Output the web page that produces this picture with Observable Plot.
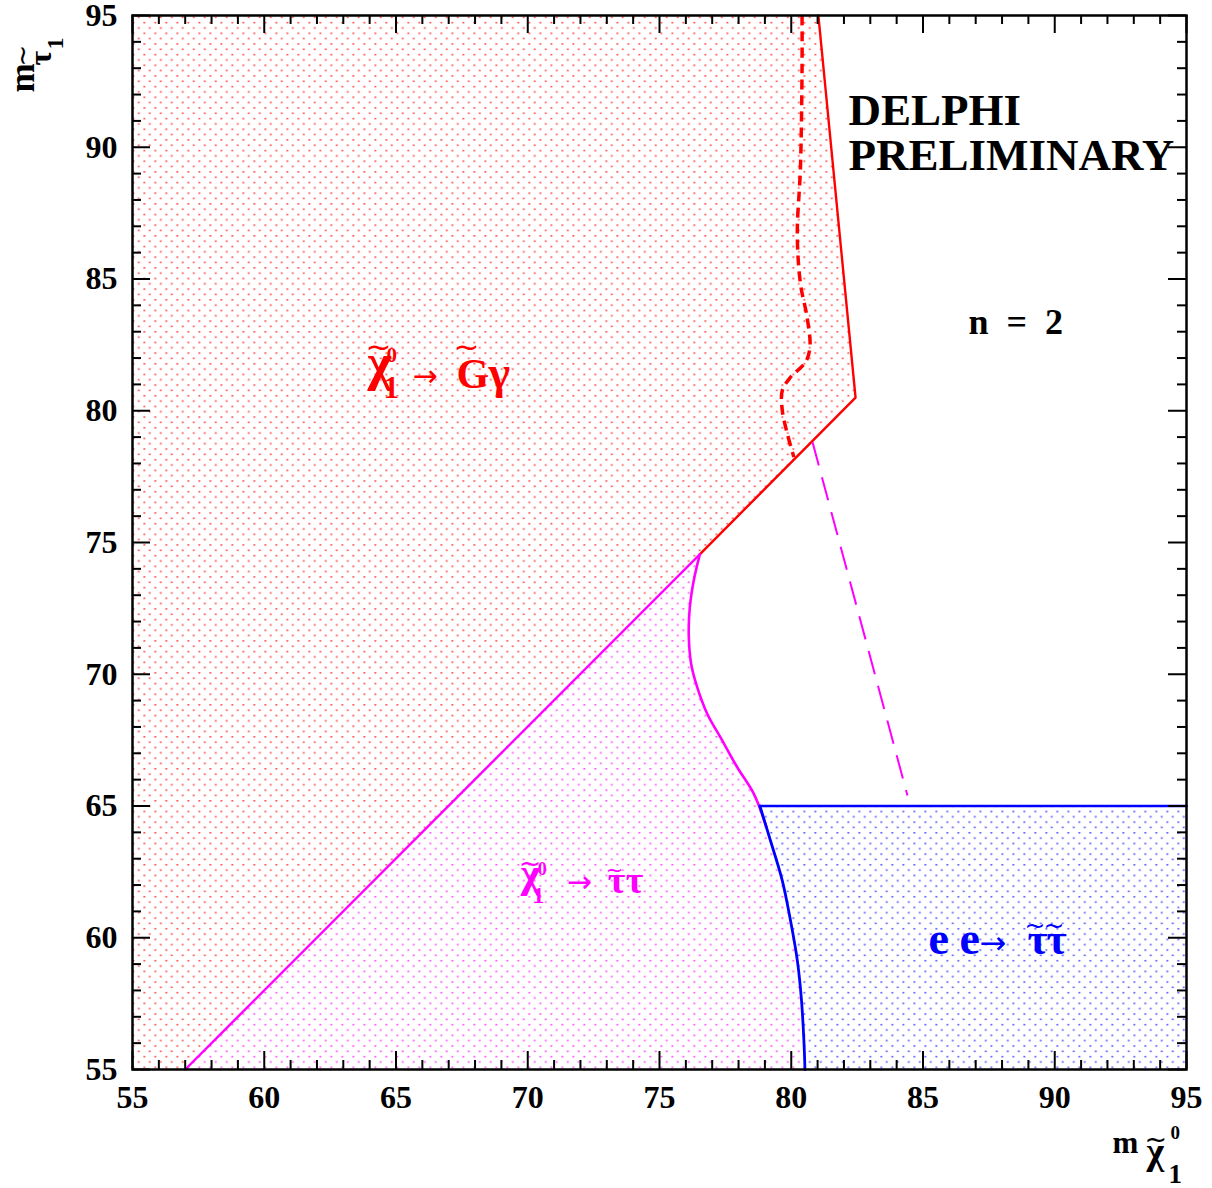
<!DOCTYPE html>
<html><head><meta charset="utf-8">
<script src="https://cdn.jsdelivr.net/npm/d3@7"></script>
<script src="https://cdn.jsdelivr.net/npm/@observablehq/plot@0.6"></script>
<style>body{margin:0;background:#fff}</style>
</head><body>
<svg width="0" height="0" style="position:absolute">
<defs>
<pattern id="dots-red" patternUnits="userSpaceOnUse" width="11" height="10.66">
<rect x="0" y="0" width="1.6" height="1.6" fill="#ff0000" fill-opacity="0.8"/>
<rect x="5.5" y="5.33" width="1.6" height="1.6" fill="#ff0000" fill-opacity="0.8"/>
</pattern>
<pattern id="dots-magenta" patternUnits="userSpaceOnUse" width="11" height="10.66">
<rect x="0" y="0" width="1.6" height="1.6" fill="#ff00ff" fill-opacity="0.8"/>
<rect x="5.5" y="5.33" width="1.6" height="1.6" fill="#ff00ff" fill-opacity="0.8"/>
</pattern>
<pattern id="dots-blue" patternUnits="userSpaceOnUse" width="11" height="10.66">
<rect x="0" y="0" width="1.6" height="1.6" fill="#0000ff" fill-opacity="0.75"/>
<rect x="5.5" y="5.33" width="1.6" height="1.6" fill="#0000ff" fill-opacity="0.75"/>
</pattern>
</defs></svg>
<div id="chart"></div>
<script>
// ---- axis ticks ----
const xTickLabels = [55, 60, 65, 70, 75, 80, 85, 90, 95];
const yTickLabels = [55, 60, 65, 70, 75, 80, 85, 90, 95];
const minorTicks = d3.range(55, 96, 1);

// ---- excluded regions (m_chi, m_stau) ----
// Red region: chi -> G gamma
const redRegionX = [55, 81.03, 82.44, 57.0, 55];
const redRegionY = [95, 95, 80.5, 55, 55];
// Red solid boundary
const redLineX = [81.03, 82.44, 76.53];
const redLineY = [95, 80.5, 74.55];
// Red dashed (expected) boundary
const redDashX = [80.41, 80.41, 80.35, 80.23, 80.35, 80.60, 80.71, 80.54, 79.97, 79.66, 79.66, 79.85, 80.10];
const redDashY = [95, 93.04, 89.24, 86.72, 84.82, 83.55, 82.41, 81.84, 81.27, 80.77, 80.01, 79.13, 78.24];
// Magenta diagonal (kinematic) boundary
const diagX = [76.53, 57.0];
const diagY = [74.55, 55];
// Magenta curve
const magCurveX = [76.53, 76.30, 76.15, 76.11, 76.20, 76.43, 76.81, 77.31, 77.95, 78.58, 79.06];
const magCurveY = [74.55, 73.56, 72.54, 71.53, 70.40, 69.51, 68.50, 67.61, 66.47, 65.46, 64.2];
// Magenta dashed
const magDashX = [80.81, 84.41];
const magDashY = [78.8, 65.4];
// Blue curve (ee -> stau stau)
const blueCurveX = [78.81, 79.21, 79.66, 79.97, 80.23, 80.38, 80.48, 80.52];
const blueCurveY = [65.0, 63.69, 62.17, 60.66, 59.14, 57.74, 56.10, 55];
const blueTopX = [95, 78.81];
const blueTopY = [65, 65];
const blueCornerX = [95, 95];
const blueCornerY = [65, 55];

const pts = (X, Y) => X.map((x, i) => ({x, y: Y[i]}));

const redPoly = pts(redRegionX, redRegionY);
const magPoly = [
  ...pts(diagX, diagY).reverse(),
  ...pts(magCurveX, magCurveY),
  ...pts(blueCurveX, blueCurveY).filter(d => d.y < magCurveY[magCurveY.length - 1])
];
const bluePoly = [
  ...pts(blueTopX, blueTopY).reverse(),
  ...pts(blueCornerX, blueCornerY).slice(1),
  ...pts(blueCurveX, blueCurveY).reverse()
];

// ---- labels (anchor in data coords, parts offset in px) ----
const RED = "#ff0000", MAG = "#ff00ff", BLUE = "#0000ff";
const SANS = "'DejaVu Sans', sans-serif";
const redLabel = {x: 63.92, y: 81.15, color: RED, parts: [
  {t: "χ", dx: 0, dy: 0, s: 52},
  {t: "~", dx: -2, dy: -23, s: 31, w: "normal", f: SANS},
  {t: "0", dx: 19, dy: -18, s: 21},
  {t: "1", dx: 16, dy: 18, s: 31},
  {t: "→", dx: 45, dy: 6, s: 30, w: "normal", f: SANS},
  {t: "G", dx: 89, dy: 8, s: 42},
  {t: "~", dx: 86, dy: -23, s: 31, w: "normal", f: SANS},
  {t: "γ", dx: 121, dy: 8, s: 46}
]};
const magLabel = {x: 69.73, y: 61.91, color: MAG, parts: [
  {t: "χ", dx: 0, dy: 0, s: 42},
  {t: "~", dx: -2, dy: -15, s: 27, w: "normal", f: SANS},
  {t: "0", dx: 17, dy: -12, s: 18},
  {t: "1", dx: 12, dy: 16, s: 23},
  {t: "→", dx: 46, dy: 5, s: 30, w: "normal", f: SANS},
  {t: "τ", dx: 87, dy: 6, s: 38},
  {t: "~", dx: 85, dy: -10, s: 21, w: "normal", f: SANS},
  {t: "τ", dx: 105, dy: 6, s: 38}
]};
const blueLabel = {x: 85.21, y: 59.40, color: BLUE, parts: [
  {t: "e", dx: 0, dy: 0, s: 46},
  {t: "e", dx: 31, dy: 0, s: 46},
  {t: "→", dx: 51, dy: 0, s: 32, w: "normal", f: SANS},
  {t: "τ", dx: 99, dy: 0, s: 44},
  {t: "~", dx: 96, dy: -20, s: 25, w: "normal", f: SANS},
  {t: "τ", dx: 118, dy: 0, s: 44},
  {t: "~", dx: 115, dy: -20, s: 25, w: "normal", f: SANS}
]};
const xTitle = {frameAnchor: "bottom-right", color: "black", parts: [
  {t: "m", dx: -74, dy: 83, s: 31},
  {t: "χ", dx: -40, dy: 94, s: 38},
  {t: "~", dx: -42, dy: 78, s: 27, w: "normal", f: SANS},
  {t: "0", dx: -16, dy: 69, s: 19},
  {t: "1", dx: -18, dy: 113, s: 27}
]};
const yTitle = {frameAnchor: "top-left", color: "black", rotate: -90, parts: [
  {t: "m", dx: -99, dy: 77, s: 35},
  {t: "τ", dx: -82, dy: 50, s: 32},
  {t: "~", dx: -102, dy: 51, s: 26, w: "normal", f: SANS},
  {t: "1", dx: -70, dy: 34, s: 24}
]};
const notes = [
  {t: "DELPHI", x: 82.17, y: 90.83, s: 45},
  {t: "PRELIMINARY", x: 82.17, y: 89.12, s: 45},
  {t: "n\u2002=\u20022", x: 86.73, y: 82.93, s: 36}
];

function richLabel(L) {
  return L.parts.map(p => Plot.text([p], {
    x: L.x == null ? undefined : () => L.x,
    y: L.y == null ? undefined : () => L.y,
    frameAnchor: L.frameAnchor,
    text: d => d.t,
    dx: p.dx, dy: p.dy, fontSize: p.s, fontWeight: p.w ?? "bold",
    fontFamily: p.f ?? "'Liberation Serif', 'Times New Roman', serif",
    fill: L.color, textAnchor: "start", lineAnchor: "bottom",
    rotate: L.rotate ?? 0
  }));
}

const W = 1212, H = 1188, mL = 132, mR = 26, mT = 15, mB = 119;
const PW = W - mL - mR, PH = H - mT - mB;
const majLen = 18, minLen = 9;
const isMajor = d => d % 5 === 0;

const chart = Plot.plot({
  width: W, height: H,
  marginLeft: mL, marginRight: mR, marginTop: mT, marginBottom: mB,
  x: {domain: [55, 95], label: null},
  y: {domain: [55, 95], label: null},
  style: {fontFamily: "'Liberation Serif', 'Times New Roman', serif", fontWeight: "bold", background: "white", color: "black", overflow: "visible"},
  marks: [
    Plot.line(redPoly, {x: "x", y: "y", fill: "url(#dots-red)", stroke: "none"}),
    Plot.line(magPoly, {x: "x", y: "y", fill: "url(#dots-magenta)", stroke: "none"}),
    Plot.line(bluePoly, {x: "x", y: "y", fill: "url(#dots-blue)", stroke: "none"}),
    Plot.line(pts(redLineX, redLineY), {x: "x", y: "y", stroke: RED, strokeWidth: 2.4}),
    Plot.line(pts(diagX, diagY), {x: "x", y: "y", stroke: MAG, strokeWidth: 2.4}),
    Plot.line(pts(magCurveX, magCurveY), {x: "x", y: "y", stroke: MAG, strokeWidth: 2.6, curve: "catmull-rom"}),
    Plot.line(pts(magDashX, magDashY), {x: "x", y: "y", stroke: MAG, strokeWidth: 2, strokeDasharray: "24,12", strokeLinecap: "butt"}),
    Plot.line(pts(redDashX, redDashY), {x: "x", y: "y", stroke: RED, strokeWidth: 3.5, strokeDasharray: "10,6", strokeLinecap: "butt", curve: "catmull-rom"}),
    Plot.line(pts(blueTopX, blueTopY), {x: "x", y: "y", stroke: BLUE, strokeWidth: 2.6}),
    Plot.line(pts(blueCurveX, blueCurveY), {x: "x", y: "y", stroke: BLUE, strokeWidth: 2.8, curve: "catmull-rom"}),
    // inward ticks on all four sides
    Plot.tickX(minorTicks, {x: d => d, insetTop: PH - minLen, stroke: "black", strokeWidth: 2, filter: d => !isMajor(d)}),
    Plot.tickX(minorTicks, {x: d => d, insetBottom: PH - minLen, stroke: "black", strokeWidth: 2, filter: d => !isMajor(d)}),
    Plot.tickX(xTickLabels, {x: d => d, insetTop: PH - majLen, stroke: "black", strokeWidth: 2}),
    Plot.tickX(xTickLabels, {x: d => d, insetBottom: PH - majLen, stroke: "black", strokeWidth: 2}),
    Plot.tickY(minorTicks, {y: d => d, insetRight: PW - minLen, stroke: "black", strokeWidth: 2, filter: d => !isMajor(d)}),
    Plot.tickY(minorTicks, {y: d => d, insetLeft: PW - minLen, stroke: "black", strokeWidth: 2, filter: d => !isMajor(d)}),
    Plot.tickY(yTickLabels, {y: d => d, insetRight: PW - majLen, stroke: "black", strokeWidth: 2}),
    Plot.tickY(yTickLabels, {y: d => d, insetLeft: PW - majLen, stroke: "black", strokeWidth: 2}),
    Plot.axisX(xTickLabels, {anchor: "bottom", tickSize: 0, tickPadding: 16, fontSize: 32, fontWeight: "bold", label: null, tickFormat: d => String(d)}),
    Plot.axisY(yTickLabels, {anchor: "left", tickSize: 0, tickPadding: 15, fontSize: 32, fontWeight: "bold", label: null, tickFormat: d => String(d)}),
    Plot.frame({stroke: "black", strokeWidth: 2.5}),
    ...richLabel(redLabel),
    ...richLabel(magLabel),
    ...richLabel(blueLabel),
    ...richLabel(xTitle),
    ...richLabel(yTitle),
    Plot.text(notes, {x: "x", y: "y", text: "t", fontSize: d => d.s, fontWeight: "bold", fill: "black", textAnchor: "start", lineAnchor: "bottom"})
  ]
});
document.getElementById("chart").appendChild(chart);
</script>
</body></html>
